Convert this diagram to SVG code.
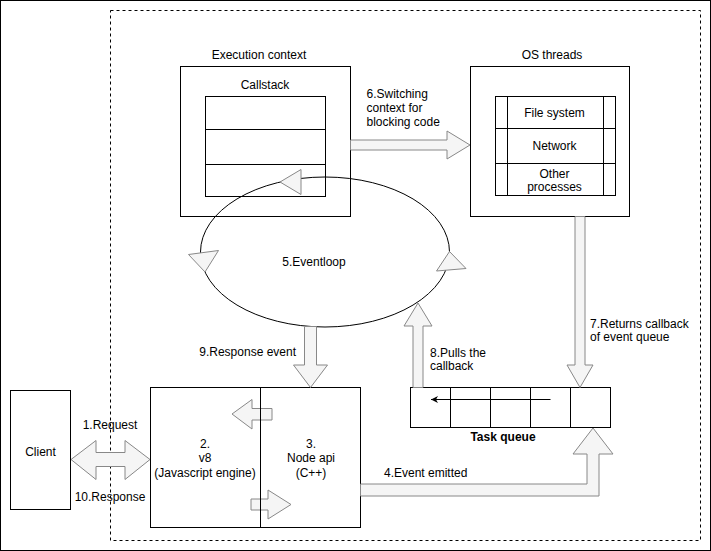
<svg xmlns="http://www.w3.org/2000/svg" width="711" height="551" viewBox="0 0 711 551">
<style>
text{font-family:"Liberation Sans",Arial,sans-serif;font-size:12px;fill:#000}
.m{text-anchor:middle}
.b{font-weight:bold}
.box{fill:#fff;stroke:#000;stroke-width:1}
.ln{fill:none;stroke:#000;stroke-width:1}
.blk{fill:#f5f5f5;stroke:#888;stroke-width:1}
</style>
<defs>
<marker id="ah" markerWidth="8" markerHeight="8" refX="7" refY="4" orient="auto" markerUnits="userSpaceOnUse">
<path d="M0,0.5 L7,4 L0,7.5 L2,4 Z" fill="#000"/>
</marker>
</defs>
<rect x="0.5" y="0.5" width="710" height="550" fill="#fff" stroke="#000"/>
<rect id="boundary" x="110.5" y="10.5" width="590" height="530" fill="none" stroke="#000" stroke-dasharray="3 3"/>

<g id="execution-context">
<rect class="box" x="180.5" y="66.5" width="170" height="150"/>
<text class="m" x="259" y="59">Execution context</text>
<text class="m" x="265" y="89">Callstack</text>
<rect class="box" x="205.5" y="96.5" width="120" height="100"/>
<line class="ln" x1="205.5" y1="129.5" x2="325.5" y2="129.5"/>
<line class="ln" x1="205.5" y1="164.5" x2="325.5" y2="164.5"/>
</g>

<g id="os-threads">
<rect class="box" x="470.5" y="66.5" width="159" height="150"/>
<text class="m" x="552" y="59">OS threads</text>
<rect class="box" x="495.5" y="96.5" width="120" height="99"/>
<line class="ln" x1="507.5" y1="96.5" x2="507.5" y2="195.5"/>
<line class="ln" x1="603.5" y1="96.5" x2="603.5" y2="195.5"/>
<line class="ln" x1="495.5" y1="128.5" x2="615.5" y2="128.5"/>
<line class="ln" x1="495.5" y1="163.5" x2="615.5" y2="163.5"/>
<text class="m" x="554.5" y="117">File system</text>
<text class="m" x="554.5" y="150">Network</text>
<text class="m" x="554.5" y="177.5">Other</text>
<text class="m" x="554.5" y="191">processes</text>
</g>

<g id="eventloop">
<ellipse class="ln" cx="325" cy="252" rx="124.5" ry="75"/>
<text class="m" x="314" y="266">5.Eventloop</text>
</g>

<g id="task-queue">
<rect class="box" x="410.5" y="387.5" width="200" height="40"/>
<line class="ln" x1="450.5" y1="387.5" x2="450.5" y2="427.5"/>
<line class="ln" x1="490.5" y1="387.5" x2="490.5" y2="427.5"/>
<line class="ln" x1="530.5" y1="387.5" x2="530.5" y2="427.5"/>
<line class="ln" x1="570.5" y1="387.5" x2="570.5" y2="427.5"/>
<line class="ln" x1="550.5" y1="399.5" x2="431" y2="399.5" marker-end="url(#ah)"/>
<text class="m b" x="503" y="441">Task queue</text>
</g>

<g id="node-runtime">
<rect class="box" x="150.5" y="387.5" width="210" height="140"/>
<text class="m" x="205" y="448">2.</text>
<text class="m" x="205" y="462">v8</text>
<text class="m" x="205" y="476.5">(Javascript engine)</text>
<text class="m" x="311" y="448">3.</text>
<text class="m" x="311" y="462">Node api</text>
<text class="m" x="311" y="476.5">(C++)</text>
</g>

<g id="client">
<rect class="box" x="10.5" y="390.5" width="60" height="119"/>
<text class="m" x="40.5" y="456">Client</text>
</g>

<g id="connectors">
<!-- eventloop arrowheads -->
<polygon class="blk" points="280,182 301,169.5 301,194.5"/>
<polygon class="blk" points="188.5,254.5 218.5,250.5 205,272"/>
<polygon class="blk" points="436.5,271 466,268.5 449.5,251.5"/>
<!-- 6 -->
<polygon class="blk" points="350.5,140 447,140 447,131 470,145 447,159 447,150 350.5,150"/>
<text x="366.5" y="98">6.Switching</text>
<text x="366.5" y="111.5">context for</text>
<text x="366.5" y="125.5">blocking code</text>
<!-- 7 -->
<polygon class="blk" points="575,216.5 585,216.5 585,365 593,365 580,387.5 567,365 575,365"/>
<text x="590" y="327.5">7.Returns callback</text>
<text x="590" y="340.5">of event queue</text>
<!-- 8 -->
<polygon class="blk" points="413,387.5 413,326 404,326 418,303 432,326 423,326 423,387.5"/>
<text x="430" y="357">8.Pulls the</text>
<text x="430" y="370">callback</text>
<!-- 9 -->
<polygon class="blk" points="304.5,326.5 316.5,326.5 316.5,365 327.5,365 310.5,387.5 293.5,365 304.5,365"/>
<text x="296" y="356" text-anchor="end">9.Response event</text>
<!-- 4 -->
<polygon class="blk" points="360.5,484 587,484 587,454 573,454 593,428 613,454 599,454 599,496 360.5,496"/>
<text x="384" y="476.5">4.Event emitted</text>
<!-- inner arrows -->
<polygon class="blk" points="272,408.5 252,408.5 252,399.5 232,414 252,429 252,420 272,420"/>
<polygon class="blk" points="251,499 268,499 268,490 291,504.5 268,519 268,510 251,510"/>
<!-- 1 / 10 -->
<polygon class="blk" points="71,459.5 96,440.5 96,452.5 125,452.5 125,440.5 150,459.5 125,479.5 125,466.5 96,466.5 96,479.5"/>
<text class="m" x="110" y="429">1.Request</text>
<text class="m" x="110" y="500.5">10.Response</text>
</g>
<line id="runtime-divider" class="ln" x1="260.5" y1="387.5" x2="260.5" y2="527.5"/>
</svg>
